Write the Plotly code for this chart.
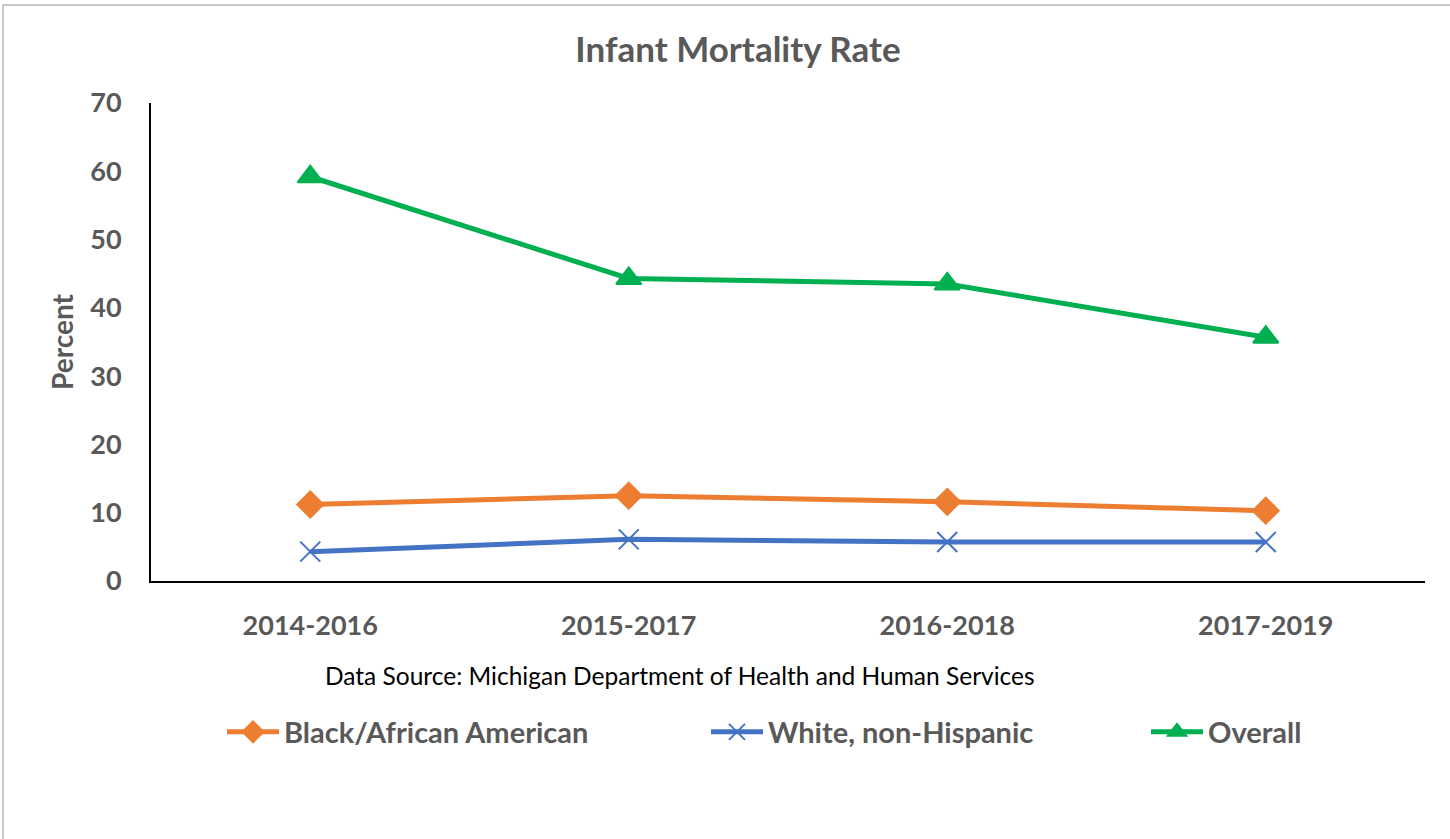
import plotly.graph_objects as go

categories = ["2014-2016", "2015-2017", "2016-2018", "2017-2019"]
black_vals = [11.2, 12.5, 11.6, 10.3]
white_vals = [4.3, 6.1, 5.7, 5.7]
overall_vals = [59.2, 44.3, 43.5, 35.7]
y_ticks = [0, 10, 20, 30, 40, 50, 60, 70]

FONT = "Lato, Open Sans, sans-serif"
GRAY = "#595959"

fig = go.Figure()
series = [
    ("Black/African American", black_vals, "#ED7D31", "diamond", 20, "legend"),
    ("White, non-Hispanic", white_vals, "#4472C4", "x-thin", 20, "legend2"),
    ("Overall", overall_vals, "#00B050", "triangle-up", 22, "legend3"),
]
for name, vals, color, sym, sz, lg in series:
    fig.add_trace(go.Scatter(
        x=categories, y=vals, name=name, mode="lines+markers",
        line=dict(color=color, width=5),
        marker=dict(symbol=sym, size=sz, color=color,
                    line=dict(color=color, width=2)),
        legend=lg, showlegend=True,
    ))

L, T, PW, PH = 151, 103, 1274, 478


def px_x(p):
    return (p - L) / PW


def px_y(p):
    return (T + PH - p) / PH


leg_common = dict(orientation="h", yanchor="middle", y=px_y(732), xanchor="left",
                  font=dict(family=FONT, size=29, color=GRAY, weight="bold"),
                  bgcolor="rgba(0,0,0,0)", itemwidth=52)
fig.update_layout(
    width=1450, height=839, showlegend=True,
    margin=dict(l=L, r=1450 - L - PW, t=T, b=839 - T - PH),
    paper_bgcolor="white", plot_bgcolor="white",
    title=dict(text="Infant Mortality Rate", x=738 / 1450, xanchor="center",
               y=1 - 50 / 839, yanchor="middle",
               font=dict(family=FONT, size=35, color=GRAY, weight="bold")),
    legend=dict(**leg_common, x=px_x(228 - 6)),
    legend2=dict(**leg_common, x=px_x(712 - 6)),
    legend3=dict(**leg_common, x=px_x(1152 - 6)),
    xaxis=dict(type="category", range=[-0.5, 3.5], showline=True, linecolor="black", linewidth=2,
               showgrid=False, ticks="", ticklabelstandoff=20,
               tickfont=dict(family=FONT, size=27, color=GRAY, weight="bold")),
    yaxis=dict(range=[0, 70], tickvals=y_ticks, showline=True, linecolor="black", linewidth=2,
               showgrid=False, zeroline=False, ticks="", ticklabelstandoff=22,
               title=dict(text="Percent", standoff=8,
                          font=dict(family=FONT, size=28, color=GRAY, weight="bold")),
               tickfont=dict(family=FONT, size=27, color=GRAY, weight="bold")),
    annotations=[dict(text="Data Source: Michigan Department of Health and Human Services",
                      xref="paper", yref="paper", x=px_x(680), y=px_y(675),
                      xanchor="center", yanchor="middle", showarrow=False,
                      font=dict(family=FONT, size=24.5, color="black"))],
    shapes=[dict(type="rect", xref="paper", yref="paper",
                 x0=px_x(3), x1=1.5, y0=-2, y1=px_y(5),
                 line=dict(color="#C8C8C8", width=2), fillcolor="rgba(0,0,0,0)", layer="below")],
)

fig.write_html("out.html", config={"displayModeBar": False},
               post_script="document.body.style.margin='0';")
